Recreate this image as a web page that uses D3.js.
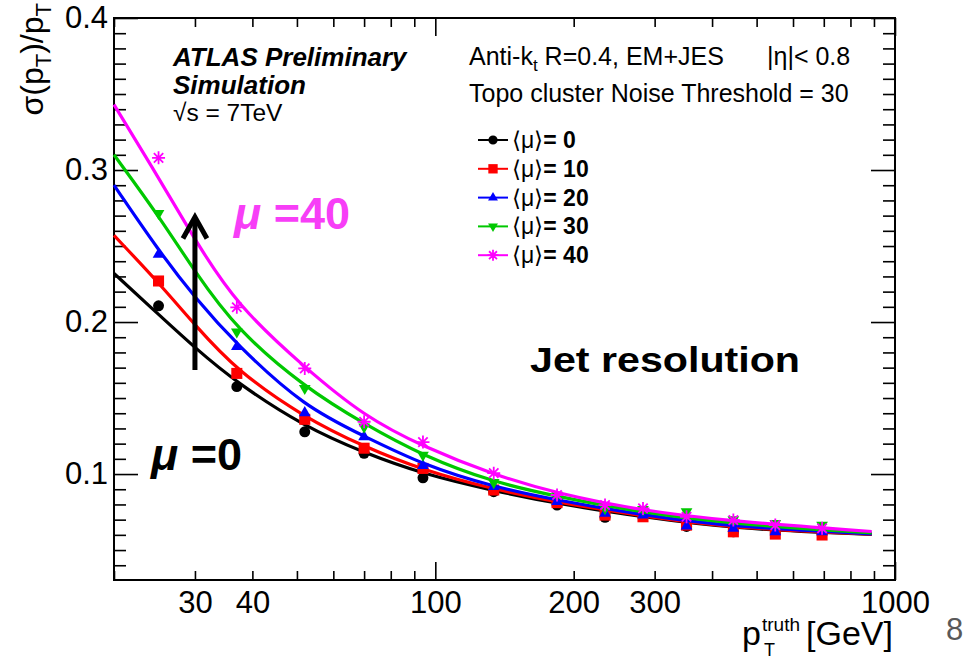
<!DOCTYPE html>
<html><head><meta charset="utf-8">
<script src="https://cdn.jsdelivr.net/npm/d3@7"></script>
<style>body{margin:0;background:#fff}svg{display:block}</style>
</head><body><svg id="c" width="979" height="659"></svg>
<script>
// ---------------- data ----------------
const seriesLabels = ["0", "10", "20", "30", "40"];
const markerPt = [25, 37, 52, 70, 94, 134, 184, 234, 283, 352, 445, 549, 694];
const pts_mu0  = [0.2107, 0.1575, 0.1278, 0.1136, 0.0975, 0.0884, 0.0796, 0.0715, 0.0722, 0.0655, 0.0620, 0.0612, 0.0606];
const pts_mu10 = [0.2270, 0.1662, 0.1360, 0.1170, 0.1037, 0.0895, 0.0812, 0.0730, 0.0719, 0.0664, 0.0620, 0.0605, 0.0599];
const pts_mu20 = [0.2445, 0.1838, 0.1403, 0.1245, 0.1055, 0.0917, 0.0818, 0.0741, 0.0730, 0.0658, 0.0643, 0.0620, 0.0620];
const pts_mu30 = [0.2715, 0.1936, 0.1564, 0.1310, 0.1125, 0.0945, 0.0862, 0.0774, 0.0767, 0.0752, 0.0700, 0.0675, 0.0664];
const pts_mu40 = [0.3080, 0.2097, 0.1695, 0.1344, 0.1210, 0.1006, 0.0862, 0.0796, 0.0774, 0.0719, 0.0697, 0.0664, 0.0643];

const curvePt  = [20, 25, 30, 37, 52, 70, 94, 134, 184, 283, 445, 890];
const fit_mu0  = [0.232, 0.205, 0.183, 0.160, 0.131, 0.114, 0.100, 0.0890, 0.0805, 0.0717, 0.0640, 0.0603];
const fit_mu10 = [0.257, 0.226, 0.198, 0.168, 0.137, 0.118, 0.1025, 0.0900, 0.0815, 0.0723, 0.0645, 0.0605];
const fit_mu20 = [0.290, 0.247, 0.216, 0.185, 0.144, 0.125, 0.106, 0.0915, 0.0828, 0.0730, 0.0652, 0.0607];
const fit_mu30 = [0.310, 0.270, 0.233, 0.195, 0.157, 0.133, 0.112, 0.0945, 0.0852, 0.0745, 0.0672, 0.0612];
const fit_mu40 = [0.343, 0.295, 0.254, 0.211, 0.170, 0.138, 0.118, 0.0995, 0.0872, 0.0758, 0.0688, 0.0622];

const xTickLabels = [30, 40, 100, 200, 300, 1000];
const xMajorTicks = [100, 1000];
const xMinorTicks = [20, 30, 40, 50, 60, 70, 80, 90, 200, 300, 400, 500, 600, 700, 800, 900];
const yTickLabels = [0.1, 0.2, 0.3, 0.4];

// ---------------- setup ----------------
const FONT = "'Liberation Sans', Arial, Helvetica, sans-serif";
const colors = ["#000000", "#ff0000", "#0000ff", "#00c800", "#ff00ff"];
const markerTypes = ["circle", "square", "triUp", "triDown", "star"];
const pointSets = [pts_mu0, pts_mu10, pts_mu20, pts_mu30, pts_mu40];
const fitSets = [fit_mu0, fit_mu10, fit_mu20, fit_mu30, fit_mu40];

const svg = d3.select("#c");
svg.append("rect").attr("width", 979).attr("height", 659).attr("fill", "#fff");

const L = 114, R = 895, T = 18, B = 580;
const x = d3.scaleLog().domain([20, 1000]).range([L, R]);
const y = d3.scaleLinear().domain([0.0303, 0.4]).range([B, T]);

const yMinorTicks = d3.range(4, 40).filter(i => i % 10 !== 0).map(i => i / 100);

function styleAxis(g) {
  g.select(".domain").remove();
  g.selectAll(".tick line").attr("stroke", "#000").attr("stroke-width", 1.6);
  g.selectAll("text").attr("font-family", FONT).attr("fill", "#000");
}

// bottom
svg.append("g").attr("transform", `translate(0,${B})`)
  .call(d3.axisBottom(x).tickValues(xMinorTicks).tickSizeInner(-9).tickSizeOuter(0).tickFormat(""))
  .call(styleAxis);
svg.append("g").attr("transform", `translate(0,${B})`)
  .call(d3.axisBottom(x).tickValues(xMajorTicks).tickSizeInner(-18).tickSizeOuter(0).tickFormat(""))
  .call(styleAxis);
svg.append("g").attr("transform", `translate(0,${B})`)
  .call(d3.axisBottom(x).tickValues(xTickLabels).tickSizeInner(0).tickSizeOuter(0).tickPadding(11).tickFormat(d3.format("d")))
  .call(styleAxis)
  .call(g => g.selectAll("text").attr("font-size", 31));
// top
svg.append("g").attr("transform", `translate(0,${T})`)
  .call(d3.axisTop(x).tickValues(xMinorTicks).tickSizeInner(-9).tickSizeOuter(0).tickFormat(""))
  .call(styleAxis);
svg.append("g").attr("transform", `translate(0,${T})`)
  .call(d3.axisTop(x).tickValues(xMajorTicks).tickSizeInner(-18).tickSizeOuter(0).tickFormat(""))
  .call(styleAxis);
// left
svg.append("g").attr("transform", `translate(${L},0)`)
  .call(d3.axisLeft(y).tickValues(yMinorTicks).tickSizeInner(-12).tickSizeOuter(0).tickFormat(""))
  .call(styleAxis);
svg.append("g").attr("transform", `translate(${L},0)`)
  .call(d3.axisLeft(y).tickValues(yTickLabels).tickSizeInner(-24).tickSizeOuter(0).tickPadding(6).tickFormat(d3.format(".1f")))
  .call(styleAxis)
  .call(g => g.selectAll("text").attr("font-size", 31));
// right
svg.append("g").attr("transform", `translate(${R},0)`)
  .call(d3.axisRight(y).tickValues(yMinorTicks).tickSizeInner(-12).tickSizeOuter(0).tickFormat(""))
  .call(styleAxis);
svg.append("g").attr("transform", `translate(${R},0)`)
  .call(d3.axisRight(y).tickValues(yTickLabels).tickSizeInner(-24).tickSizeOuter(0).tickFormat(""))
  .call(styleAxis);

// frame
svg.append("rect").attr("x", L).attr("y", T).attr("width", R - L).attr("height", B - T)
  .attr("fill", "none").attr("stroke", "#000").attr("stroke-width", 2);

// ---------------- markers ----------------
function drawMarker(g, type, cx, cy, s, color) {
  if (type === "star") {
    const h = s / 2, d = h * 0.72;
    const p = d3.path();
    p.moveTo(cx - h, cy); p.lineTo(cx + h, cy);
    p.moveTo(cx, cy - h); p.lineTo(cx, cy + h);
    p.moveTo(cx - d, cy - d); p.lineTo(cx + d, cy + d);
    p.moveTo(cx - d, cy + d); p.lineTo(cx + d, cy - d);
    g.append("path").attr("d", p.toString()).attr("stroke", color).attr("stroke-width", 1.8).attr("fill", "none");
    return;
  }
  let sym, rot = 0, area;
  if (type === "circle") { sym = d3.symbolCircle; area = Math.PI * (s * 0.42) ** 2; }
  else if (type === "square") { sym = d3.symbolSquare; area = (s * 0.85) ** 2; }
  else { sym = d3.symbolTriangle; area = (s * 0.9) ** 2 * 0.433; if (type === "triDown") rot = 180; }
  g.append("path").attr("d", d3.symbol().type(sym).size(area)())
    .attr("transform", `translate(${cx},${cy}) rotate(${rot})`)
    .attr("fill", color);
}

const line = d3.line().x(d => x(d[0])).y(d => y(d[1])).curve(d3.curveBasis);

const plotG = svg.append("g");
pointSets.forEach((vals, i) => {
  const g = plotG.append("g");
  vals.forEach((v, j) => drawMarker(g, markerTypes[i], x(markerPt[j]), y(v), 13, colors[i]));
  g.append("path").datum(curvePt.map((p, j) => [p, fitSets[i][j]]))
    .attr("d", line).attr("fill", "none").attr("stroke", colors[i]).attr("stroke-width", 3.2);
});

// ---------------- axis titles ----------------
const yt = svg.append("text").attr("transform", "translate(43,3) rotate(-90)")
  .attr("text-anchor", "end").attr("font-family", FONT).attr("font-size", 32).attr("fill", "#000");
yt.append("tspan").text("σ(p");
yt.append("tspan").attr("font-size", 22).attr("dy", 8).text("T");
yt.append("tspan").attr("dy", -8).text(")/p");
yt.append("tspan").attr("font-size", 22).attr("dy", 8).text("T");

svg.append("text").attr("x", 742).attr("y", 645).attr("font-family", FONT).attr("font-size", 34).text("p");
svg.append("text").attr("x", 762).attr("y", 631).attr("font-family", FONT).attr("font-size", 19).text("truth");
svg.append("text").attr("x", 764).attr("y", 656).attr("font-family", FONT).attr("font-size", 18).text("T");
svg.append("text").attr("x", 893).attr("y", 645).attr("text-anchor", "end").attr("font-family", FONT).attr("font-size", 34).text("[GeV]");

// slide page number
svg.append("text").attr("x", 946).attr("y", 640).attr("font-family", FONT).attr("font-size", 31).attr("fill", "#595959").text("8");

// ---------------- labels ----------------
svg.append("text").attr("x", 173).attr("y", 66).attr("font-family", FONT).attr("font-size", 26)
  .attr("font-weight", "bold").attr("font-style", "italic").text("ATLAS Preliminary");
svg.append("text").attr("x", 173).attr("y", 94).attr("font-family", FONT).attr("font-size", 26)
  .attr("font-weight", "bold").attr("font-style", "italic").text("Simulation");
svg.append("text").attr("x", 173).attr("y", 121).attr("font-family", FONT).attr("font-size", 24.5).text("√s = 7TeV");

const t1 = svg.append("text").attr("x", 469).attr("y", 65).attr("font-family", FONT).attr("font-size", 25);
t1.append("tspan").text("Anti-k");
t1.append("tspan").attr("font-size", 17).attr("dy", 6).text("t");
t1.append("tspan").attr("dy", -6).text(" R=0.4, EM+JES");
svg.append("text").attr("x", 767).attr("y", 65).attr("font-family", FONT).attr("font-size", 25).text("|η|< 0.8");
svg.append("text").attr("x", 469).attr("y", 102).attr("font-family", FONT).attr("font-size", 25).text("Topo cluster Noise Threshold = 30");

// legend
seriesLabels.forEach((lab, i) => {
  const cy = 140 + i * 28.8;
  const g = svg.append("g");
  g.append("line").attr("x1", 478).attr("x2", 508).attr("y1", cy).attr("y2", cy).attr("stroke", colors[i]).attr("stroke-width", 2);
  drawMarker(g, markerTypes[i], 493, cy, 11, colors[i]);
  const t = g.append("text").attr("x", 512).attr("y", cy + 8).attr("font-family", FONT).attr("font-size", 23);
  t.append("tspan").text("⟨μ⟩");
  t.append("tspan").attr("font-weight", "bold").text(i === 0 ? "= 0" : "= " + lab);
});

// big annotations
function muLabel(xp, yp, val, color) {
  const t = svg.append("text").attr("x", xp).attr("y", yp).attr("font-family", FONT).attr("font-size", 45).attr("fill", color).attr("font-weight", "bold");
  t.append("tspan").attr("font-style", "italic").text("μ");
  t.append("tspan").text(" =" + val);
}
muLabel(234, 229, "40", "#f73ef7");
muLabel(151, 470, "0", "#000");

svg.append("text").attr("x", 530).attr("y", 372).attr("font-family", FONT).attr("font-size", 35)
  .attr("font-weight", "bold").attr("textLength", 270).attr("lengthAdjust", "spacingAndGlyphs").text("Jet resolution");

// arrow
const ax = x(30);
svg.append("line").attr("x1", ax).attr("x2", ax).attr("y1", y(0.1685)).attr("y2", y(0.266))
  .attr("stroke", "#000").attr("stroke-width", 5);
svg.append("path")
  .attr("d", `M${ax - 12},${y(0.255)} L${ax},${y(0.269)} L${ax + 12},${y(0.255)}`)
  .attr("stroke", "#000").attr("stroke-width", 5).attr("fill", "none");
</script></body></html>
